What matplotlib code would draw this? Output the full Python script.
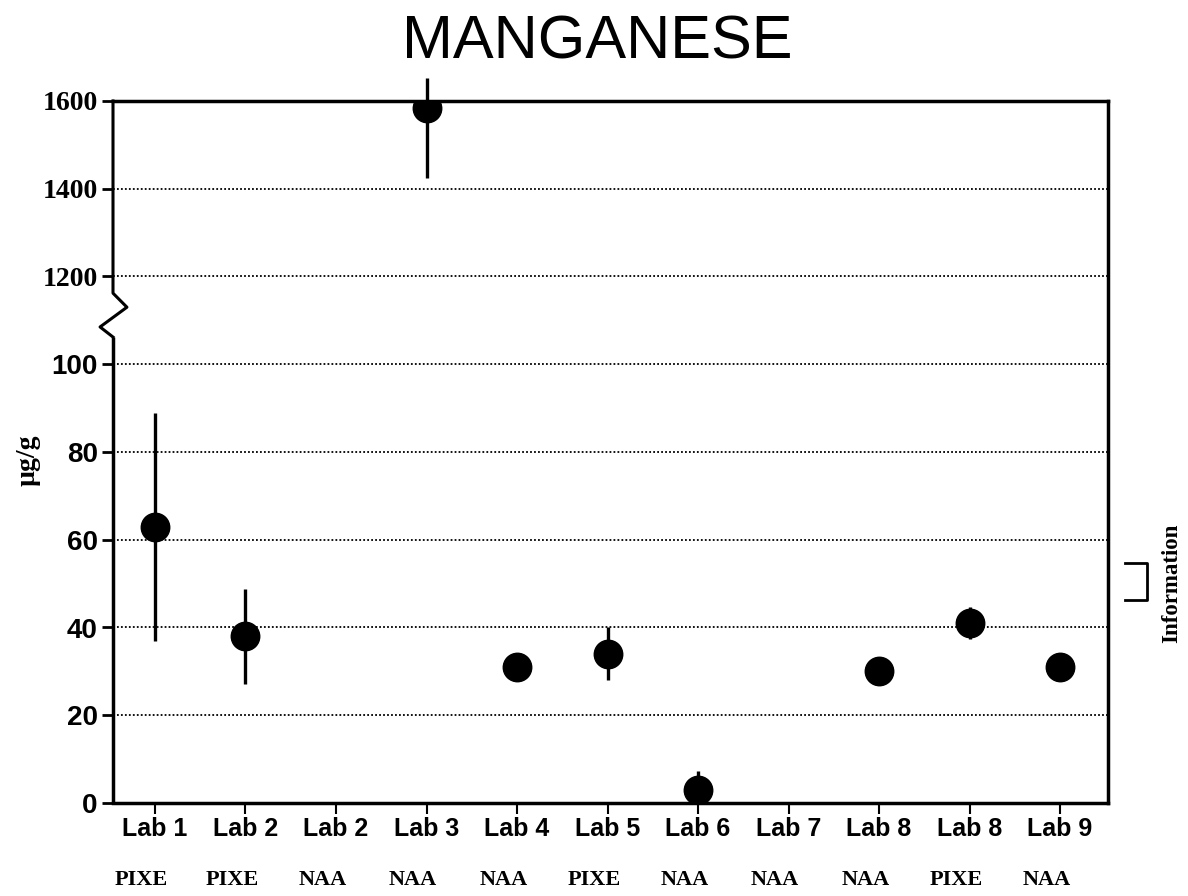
import numpy as np
import matplotlib
matplotlib.use("Agg")
from matplotlib import pyplot as plt
from matplotlib import transforms as mtransforms

# data (µg/g), nan = no result
labs = ["Lab 1", "Lab 2", "Lab 2", "Lab 3", "Lab 4", "Lab 5", "Lab 6", "Lab 7", "Lab 8", "Lab 8", "Lab 9"]
methods = ["PIXE", "PIXE", "NAA", "NAA", "NAA", "PIXE", "NAA", "NAA", "NAA", "PIXE", "NAA"]
values = [63, 38, np.nan, 1584, 31, 34, 3, np.nan, 30, 41, 31]
err_low = [26, 10.8, 0, 160, 0, 6, 3, 0, 0, 3.7, 0]
err_high = [26, 10.8, 0, 68, 0, 6, 4.3, 0, 0, 3.7, 0]
info_range = [46.3, 54.7]

ytick_vals = [0, 20, 40, 60, 80, 100, 1200, 1400, 1600]
grid_vals = [20, 40, 60, 80, 100, 1200, 1400]


def to_axis(v):
    # broken scale: 0-100 linear, 1200-1600 compressed by 10 above 120
    v = np.asarray(v, dtype=float)
    return np.where(v > 110, 120 + (v - 1200) / 10.0, v)


x = np.arange(len(labs))
vals = np.asarray(values, dtype=float)
y = to_axis(vals)
ylo = y - to_axis(vals - np.asarray(err_low))
yhi = to_axis(vals + np.asarray(err_high)) - y

fig = plt.figure(figsize=(11.88, 8.96), dpi=100)
ax = fig.add_axes([113 / 1188, 1 - 803 / 896, 995 / 1188, 702 / 896])

ax.set_xlim(-0.464, 10.53)
ax.set_ylim(0, 160)

for g in grid_vals:
    ax.axhline(to_axis(g), color="black", lw=1.3, ls=(0, (1, 1.2)), zorder=1)

eb = ax.errorbar(x, y, yerr=[ylo, yhi], fmt="o", color="black", ms=20.5,
                 elinewidth=2.4, capsize=0, zorder=3)
for line in eb.lines[2]:
    line.set_clip_on(False)

# spines: left one drawn by hand with a break
for s in ["top", "right", "bottom"]:
    ax.spines[s].set_linewidth(2.5)
ax.spines["left"].set_visible(False)
trans = mtransforms.blended_transform_factory(ax.transAxes, ax.transData)
ax.plot([0, 0], [0, 106.2], color="black", lw=2.5, transform=trans, clip_on=False, solid_capstyle="butt")
ax.plot([0, 0, 0.014, -0.013, 0], [160, 116.2, 113.0, 108.5, 106.2],
        color="black", lw=2.2, transform=trans, clip_on=False)

ax.set_yticks(to_axis(ytick_vals))
ax.set_yticklabels([str(v) for v in ytick_vals])
ax.tick_params(axis="y", direction="out", length=8, width=2, pad=3)
for lbl, v in zip(ax.get_yticklabels(), ytick_vals):
    if v >= 1200:
        lbl.set_fontfamily("Liberation Serif")
        lbl.set_fontweight("bold")
        lbl.set_fontsize(20)
    else:
        lbl.set_fontfamily("Liberation Sans")
        lbl.set_fontweight("bold")
        lbl.set_fontsize(20)

ax.set_xticks(x)
ax.set_xticklabels(labs, fontfamily="Liberation Sans", fontweight="bold", fontsize=18)
ax.tick_params(axis="x", direction="out", length=8, width=1.5, pad=2)

xtrans = mtransforms.blended_transform_factory(ax.transData, fig.transFigure)
for xi, m in zip(x, methods):
    ax.text(xi - 0.15, 1 - 880 / 896, m, transform=xtrans, ha="center", va="center",
            fontfamily="Liberation Serif", fontweight="bold", fontsize=16)

# bracket on the right
ax.plot([10.72, 10.96, 10.96, 10.72], [info_range[1], info_range[1], info_range[0], info_range[0]],
        color="black", lw=2, clip_on=False)
fig.text(1172 / 1188, 1 - 583 / 896, "Information", rotation=90, ha="center", va="center",
         fontfamily="Liberation Serif", fontweight="bold", fontsize=16.5)

fig.text(28 / 1188, 1 - 460 / 896, "µg/g", rotation=90, ha="center", va="center",
         fontfamily="Liberation Serif", fontweight="bold", fontsize=20)
fig.text(597 / 1188, 1 - 43 / 896, "MANGANESE", ha="center", va="center",
         fontfamily="Liberation Sans", fontsize=44)

fig.savefig("out.png", dpi=100)
